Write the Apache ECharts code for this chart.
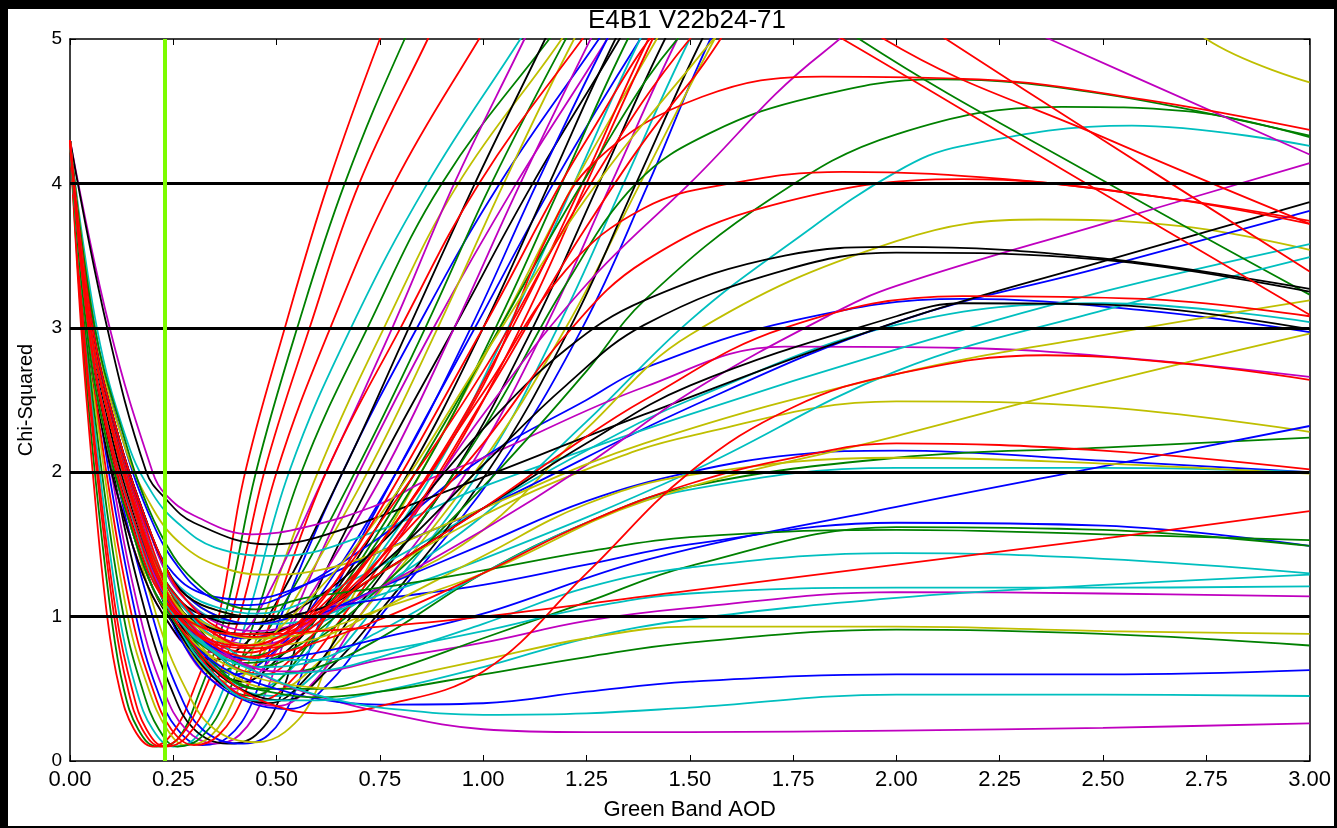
<!DOCTYPE html>
<html><head><meta charset="utf-8">
<script src="https://cdn.jsdelivr.net/npm/echarts/dist/echarts.min.js"></script>
<style>
html,body{margin:0;padding:0;background:#000;width:1337px;height:828px;overflow:hidden}
#chart{position:absolute;left:8px;top:9px;width:1326px;height:817px;background:#fff}
</style>
</head><body><div id="chart"></div>
<script>
const chartTitle = 'E4B1 V22b24-71';
const xName = 'Green Band AOD';
const yName = 'Chi-Squared';
const refLevels = [1, 2, 3, 4];
const fitAOD = 0.231;

const redCurves = [
 [[0,4.3],[0.027,3],[0.055,2],[0.09,1],[0.12,0.5],[0.155,0.22],[0.2,0.1],[0.25,0.2],[0.3,0.5],[0.36,1],[0.42,1.95],[0.52,3],[0.625,4],[0.75,5],[0.85,5.7]],
 [[0,4.3],[0.031,3],[0.065,2],[0.107,1],[0.14,0.5],[0.175,0.22],[0.22,0.1],[0.27,0.18],[0.32,0.45],[0.39,1],[0.47,2],[0.58,3],[0.7,4],[0.866,5],[0.95,5.5]],
 [[0,4.3],[0.033,3],[0.068,2],[0.113,1],[0.15,0.5],[0.185,0.22],[0.23,0.1],[0.28,0.16],[0.34,0.45],[0.41,1],[0.5,2],[0.63,3],[0.785,4],[0.99,5],[1.1,5.5]],
 [[0,4.3],[0.042,3],[0.088,2],[0.15,1],[0.2,0.5],[0.245,0.22],[0.3,0.11],[0.36,0.18],[0.42,0.45],[0.49,1],[0.62,2],[0.8,3],[0.99,4],[1.24,5],[1.35,5.4]],
 [[0,4.3],[0.05,3],[0.11,2.2],[0.17,1.6],[0.22,1.2],[0.27,0.95],[0.35,0.6],[0.46,0.42],[0.55,0.6],[0.66,1],[0.9,2],[1.09,3],[1.25,4],[1.41,5],[1.5,5.5]],
 [[0,4.3],[0.055,3],[0.12,2.2],[0.18,1.65],[0.23,1.25],[0.3,0.9],[0.38,0.68],[0.47,0.6],[0.54,0.72],[0.62,1],[0.87,2],[1.07,3],[1.24,4],[1.4,5],[1.5,5.5]],
 [[0,4.3],[0.05,3],[0.11,2.2],[0.17,1.65],[0.22,1.25],[0.27,1.02],[0.35,0.82],[0.43,0.75],[0.52,0.85],[0.6,1.05],[0.75,1.5],[1,2.6],[1.15,3.6],[1.27,4.15],[1.53,4.6],[1.82,4.74],[2.2,4.72],[2.6,4.58],[3,4.37]],
 [[0,4.3],[0.045,3],[0.1,2.2],[0.16,1.62],[0.21,1.22],[0.26,1],[0.33,0.8],[0.42,0.7],[0.5,0.78],[0.6,1],[0.75,1.5],[1,2.55],[1.2,3.4],[1.39,3.83],[1.6,4],[1.87,4.08],[2.3,4.02],[2.7,3.88],[3,3.74]],
 [[0,4.3],[0.05,3],[0.11,2.25],[0.17,1.68],[0.22,1.28],[0.27,1.08],[0.34,0.9],[0.43,0.8],[0.52,0.88],[0.62,1.05],[0.8,1.55],[1,2.2],[1.2,2.95],[1.39,3.46],[1.7,3.85],[2.16,4.03],[2.6,3.92],[3,3.72]],
 [[0,4.3],[0.055,3],[0.12,2.22],[0.18,1.7],[0.23,1.35],[0.28,1.12],[0.36,0.92],[0.45,0.86],[0.55,0.95],[0.75,1.3],[1,1.75],[1.2,2.15],[1.39,2.5],[1.73,3],[2.16,3.22],[2.6,3.2],[3,3.08]],
 [[0,4.3],[0.045,3],[0.1,2.2],[0.16,1.6],[0.22,1.15],[0.3,0.8],[0.4,0.52],[0.5,0.38],[0.6,0.33],[0.75,0.38],[1,0.62],[1.25,1.3],[1.5,2],[1.75,2.45],[2,2.68],[2.36,2.81],[2.7,2.75],[3,2.64]],
 [[0,4.3],[0.05,3],[0.11,2.2],[0.17,1.65],[0.22,1.25],[0.28,0.98],[0.36,0.78],[0.45,0.72],[0.55,0.78],[0.75,0.98],[1,1.3],[1.25,1.65],[1.5,1.92],[1.75,2.1],[2,2.2],[2.5,2.15],[3,2.02]],
 [[0,4.3],[0.045,3],[0.1,2.15],[0.16,1.55],[0.22,1.15],[0.3,0.95],[0.4,0.88],[0.5,0.88],[0.6,0.9],[0.75,0.93],[1,1],[1.5,1.18],[2,1.36],[2.5,1.54],[3,1.73]],
 [[0,4.3],[0.05,3],[0.11,2.2],[0.17,1.62],[0.22,1.22],[0.28,0.95],[0.36,0.8],[0.45,0.78],[0.55,0.92],[0.7,1.5],[1,3],[1.25,4.3],[1.5,5.3],[1.75,5.6],[1.97,5],[2.5,4.32],[3,3.72]],
 [[0,4.3],[0.045,3],[0.1,2.2],[0.16,1.62],[0.21,1.22],[0.26,1],[0.33,0.85],[0.42,0.8],[0.5,0.85],[0.6,1.1],[0.75,1.65],[1,2.7],[1.25,3.95],[1.5,5],[1.65,5.35],[1.87,5],[2.4,4.1],[3,3.09]],
 [[0,4.3],[0.05,3],[0.11,2.22],[0.17,1.66],[0.22,1.3],[0.27,1.1],[0.35,0.88],[0.45,0.78],[0.55,0.85],[0.75,1.4],[1,2.5],[1.25,3.7],[1.5,4.7],[1.8,5.6],[2.12,5],[2.5,4.3],[3,3.39]]
];

const greenCurves = [
 [[0,4.3],[0.029,3],[0.06,2],[0.1,1],[0.13,0.5],[0.165,0.22],[0.21,0.1],[0.26,0.15],[0.31,0.45],[0.375,1],[0.45,2],[0.55,3],[0.665,4],[0.81,5],[0.9,5.5]],
 [[0,4.3],[0.037,3],[0.077,2],[0.13,1],[0.175,0.5],[0.215,0.22],[0.26,0.1],[0.32,0.17],[0.38,0.45],[0.45,1],[0.56,2],[0.72,3],[0.9,4],[1.16,5],[1.3,5.5]],
 [[0,4.3],[0.04,3],[0.09,2.2],[0.15,1.6],[0.2,1.2],[0.25,0.95],[0.3,0.72],[0.36,0.62],[0.43,0.75],[0.5,1],[0.69,2],[0.86,3],[1.02,4],[1.2,5],[1.3,5.5]],
 [[0,4.3],[0.05,3],[0.11,2.2],[0.17,1.6],[0.22,1.18],[0.28,0.85],[0.36,0.55],[0.44,0.45],[0.52,0.6],[0.62,1],[0.85,2],[1.03,3],[1.19,4],[1.35,5],[1.45,5.5]],
 [[0,4.3],[0.045,3],[0.1,2.2],[0.16,1.62],[0.21,1.22],[0.26,0.98],[0.33,0.78],[0.42,0.68],[0.5,0.72],[0.6,0.9],[0.75,1.3],[1,2.3],[1.2,3.3],[1.37,4],[1.55,4.35],[1.8,4.6],[2.1,4.72],[2.5,4.62],[3,4.33]],
 [[0,4.3],[0.05,3],[0.11,2.22],[0.17,1.66],[0.22,1.3],[0.27,1.1],[0.35,0.8],[0.45,0.65],[0.55,0.75],[0.75,1.2],[1,1.9],[1.25,2.7],[1.39,3.19],[1.7,3.9],[2,4.34],[2.4,4.53],[2.7,4.5],[3,4.32]],
 [[0,4.3],[0.045,3],[0.1,2.2],[0.16,1.62],[0.21,1.25],[0.26,1.04],[0.33,0.82],[0.4,0.72],[0.48,0.75],[0.6,1],[0.75,1.6],[1,2.8],[1.25,4.05],[1.5,5.1],[1.7,5.5],[1.91,5],[2.5,4.02],[3,3.23]],
 [[0,4.3],[0.05,3],[0.11,2.22],[0.17,1.66],[0.22,1.3],[0.27,1.05],[0.35,0.75],[0.45,0.6],[0.6,0.65],[0.75,0.85],[1,1.3],[1.25,1.65],[1.5,1.9],[2,2.1],[2.5,2.17],[3,2.24]],
 [[0,4.3],[0.045,3],[0.1,2.2],[0.16,1.62],[0.21,1.25],[0.26,1.02],[0.34,0.7],[0.45,0.5],[0.6,0.5],[0.75,0.6],[1,0.85],[1.25,1.1],[1.5,1.35],[2,1.62],[2.5,1.6],[3,1.49]],
 [[0,4.3],[0.06,3],[0.13,2.25],[0.19,1.75],[0.25,1.42],[0.3,1.25],[0.37,1.1],[0.45,1.05],[0.57,1.13],[0.75,1.2],[1,1.32],[1.25,1.45],[1.5,1.55],[2,1.6],[2.5,1.57],[3,1.53]],
 [[0,4.3],[0.04,3],[0.09,2.2],[0.15,1.6],[0.2,1.2],[0.25,0.98],[0.32,0.72],[0.4,0.55],[0.5,0.47],[0.6,0.44],[0.75,0.48],[1,0.6],[1.25,0.72],[1.5,0.82],[2,0.91],[2.5,0.88],[3,0.8]]
];

const blueCurves = [
 [[0,4.3],[0.045,3],[0.094,2],[0.16,1],[0.21,0.5],[0.26,0.22],[0.32,0.11],[0.38,0.16],[0.44,0.4],[0.51,1],[0.66,2],[0.84,3],[1.04,4],[1.28,5],[1.4,5.5]],
 [[0,4.3],[0.053,3],[0.11,2],[0.2,1],[0.26,0.5],[0.32,0.22],[0.41,0.12],[0.48,0.18],[0.54,0.45],[0.61,1],[0.79,2],[0.98,3],[1.17,4],[1.38,5],[1.5,5.5]],
 [[0,4.3],[0.045,3],[0.1,2.2],[0.16,1.62],[0.21,1.22],[0.26,0.98],[0.33,0.72],[0.4,0.6],[0.48,0.72],[0.57,1],[0.79,2],[0.97,3],[1.13,4],[1.3,5],[1.4,5.5]],
 [[0,4.3],[0.05,3],[0.11,2.2],[0.17,1.6],[0.22,1.15],[0.3,0.7],[0.4,0.45],[0.53,0.36],[0.63,0.55],[0.75,1],[1.03,2],[1.24,3],[1.4,4],[1.55,5],[1.65,5.5]],
 [[0,4.3],[0.06,3],[0.13,2.2],[0.2,1.65],[0.26,1.35],[0.33,1.15],[0.42,1.08],[0.5,1.12],[0.75,1.55],[1,2.1],[1.25,2.5],[1.39,2.72],[1.75,3.05],[2.16,3.2],[2.6,3.12],[3,2.97]],
 [[0,4.3],[0.055,3],[0.12,2.2],[0.19,1.6],[0.25,1.3],[0.33,1.15],[0.43,1.12],[0.55,1.2],[0.75,1.45],[1,1.75],[1.5,2.45],[2,3.04],[2.5,3.42],[3,3.81]],
 [[0,4.3],[0.05,3],[0.11,2.22],[0.17,1.66],[0.22,1.3],[0.27,1.1],[0.34,0.92],[0.42,0.85],[0.55,0.95],[0.75,1.2],[1,1.5],[1.25,1.8],[1.5,2],[1.75,2.12],[2,2.15],[2.5,2.08],[3,2]],
 [[0,4.3],[0.055,3],[0.12,2.22],[0.18,1.7],[0.23,1.35],[0.28,1.15],[0.36,1],[0.45,0.95],[0.6,1.05],[0.75,1.12],[1,1.22],[1.25,1.36],[1.5,1.5],[2,1.65],[2.5,1.63],[3,1.49]],
 [[0,4.3],[0.045,3],[0.1,2.2],[0.16,1.62],[0.21,1.25],[0.26,1.02],[0.34,0.8],[0.45,0.7],[0.6,0.75],[0.75,0.85],[1,1.02],[1.39,1.39],[2,1.76],[2.5,2.04],[3,2.32]],
 [[0,4.3],[0.04,3],[0.09,2.2],[0.15,1.6],[0.2,1.2],[0.25,0.98],[0.32,0.75],[0.4,0.6],[0.5,0.5],[0.6,0.43],[0.75,0.39],[1,0.4],[1.25,0.48],[1.5,0.55],[2,0.6],[2.5,0.6],[3,0.63]]
];

const cyanCurves = [
 [[0,4.3],[0.035,3],[0.072,2],[0.12,1],[0.16,0.5],[0.2,0.22],[0.25,0.1],[0.3,0.15],[0.36,0.42],[0.43,1],[0.53,2],[0.68,3],[0.865,4],[1.09,5],[1.2,5.5]],
 [[0,4.3],[0.05,3],[0.11,2.2],[0.17,1.65],[0.22,1.25],[0.27,1],[0.36,0.62],[0.45,0.5],[0.54,0.65],[0.64,1],[0.88,2],[1.06,3],[1.22,4],[1.38,5],[1.48,5.5]],
 [[0,4.3],[0.05,3],[0.115,2.2],[0.18,1.6],[0.23,1.2],[0.3,0.8],[0.4,0.52],[0.5,0.45],[0.6,0.62],[0.72,1],[0.99,2],[1.18,3],[1.34,4],[1.5,5],[1.6,5.5]],
 [[0,4.3],[0.05,3],[0.11,2.22],[0.17,1.66],[0.22,1.3],[0.27,1.1],[0.35,0.92],[0.45,0.85],[0.6,0.95],[0.75,1.2],[1,1.7],[1.25,2.35],[1.5,3.05],[1.75,3.6],[2,4.08],[2.16,4.26],[2.57,4.4],[3,4.26]],
 [[0,4.3],[0.055,3],[0.12,2.22],[0.18,1.7],[0.23,1.35],[0.28,1.17],[0.36,1.06],[0.45,1.02],[0.55,1.08],[0.75,1.35],[1,1.75],[1.25,2.15],[1.5,2.5],[2,3.02],[2.5,3.17],[3,3.04]],
 [[0,4.3],[0.065,3],[0.14,2.2],[0.2,1.85],[0.26,1.65],[0.35,1.48],[0.5,1.42],[0.75,1.6],[1,1.9],[1.5,2.4],[2,2.85],[2.5,3.25],[3,3.58]],
 [[0,4.3],[0.055,3],[0.12,2.22],[0.18,1.7],[0.23,1.32],[0.28,1.12],[0.36,0.98],[0.5,0.95],[0.75,1.15],[1,1.4],[1.5,2],[2,2.7],[2.5,3.12],[3,3.49]],
 [[0,4.3],[0.045,3],[0.1,2.2],[0.16,1.62],[0.21,1.25],[0.26,1.02],[0.34,0.78],[0.45,0.65],[0.6,0.7],[0.75,0.9],[1,1.3],[1.25,1.65],[1.5,1.88],[2,2.03],[2.5,2.03],[3,2]],
 [[0,4.3],[0.05,3],[0.11,2.2],[0.17,1.62],[0.22,1.25],[0.27,1.02],[0.35,0.75],[0.45,0.6],[0.6,0.62],[0.75,0.72],[1,0.95],[1.25,1.2],[1.5,1.34],[2,1.44],[2.5,1.4],[3,1.3]],
 [[0,4.3],[0.04,3],[0.09,2.2],[0.15,1.6],[0.2,1.2],[0.25,0.98],[0.33,0.65],[0.45,0.42],[0.6,0.42],[0.75,0.48],[1,0.65],[1.25,0.85],[1.5,0.98],[2,1.13],[2.5,1.22],[3,1.29]],
 [[0,4.3],[0.05,3],[0.11,2.22],[0.17,1.66],[0.22,1.3],[0.27,1.08],[0.35,0.85],[0.45,0.7],[0.6,0.7],[0.75,0.76],[1,0.9],[1.25,1.06],[1.5,1.16],[2,1.2],[2.5,1.2],[3,1.21]],
 [[0,4.3],[0.045,3],[0.1,2.2],[0.16,1.6],[0.21,1.2],[0.27,0.95],[0.35,0.75],[0.45,0.62],[0.55,0.5],[0.65,0.42],[0.75,0.37],[1,0.32],[1.25,0.33],[1.5,0.37],[2,0.46],[2.5,0.46],[3,0.45]]
];

const magentaCurves = [
 [[0,4.3],[0.048,3],[0.1,2],[0.17,1],[0.225,0.5],[0.28,0.22],[0.35,0.12],[0.41,0.18],[0.47,0.45],[0.54,1],[0.7,2],[0.88,3],[1.08,4],[1.3,5],[1.4,5.5]],
 [[0,4.3],[0.04,3],[0.085,2.2],[0.14,1.6],[0.19,1.2],[0.24,0.95],[0.28,0.8],[0.33,0.75],[0.39,0.82],[0.45,1],[0.62,2],[0.78,3],[0.93,4],[1.1,5],[1.2,5.6]],
 [[0,4.3],[0.045,3],[0.095,2.2],[0.155,1.6],[0.2,1.2],[0.25,0.95],[0.32,0.62],[0.4,0.5],[0.47,0.65],[0.55,1],[0.76,2],[0.93,3],[1.09,4],[1.26,5],[1.35,5.5]],
 [[0,4.3],[0.055,3],[0.12,2.2],[0.18,1.62],[0.23,1.2],[0.3,0.78],[0.4,0.48],[0.5,0.38],[0.6,0.58],[0.7,1],[0.96,2],[1.15,3],[1.31,4],[1.47,5],[1.57,5.5]],
 [[0,4.3],[0.096,3],[0.2,2],[0.23,1.85],[0.3,1.7],[0.44,1.57],[0.57,1.62],[0.75,1.78],[0.86,1.94],[1,2.1],[1.39,2.59],[1.73,2.87],[2.16,2.86],[2.6,2.78],[3,2.66]],
 [[0,4.3],[0.05,3],[0.11,2.22],[0.17,1.66],[0.22,1.3],[0.27,1.08],[0.35,0.88],[0.45,0.8],[0.6,1],[0.75,1.4],[1,2.4],[1.25,3.3],[1.5,4],[1.82,4.9],[2.1,5.35],[2.37,5],[3,4.2]],
 [[0,4.3],[0.055,3],[0.12,2.22],[0.18,1.7],[0.23,1.32],[0.28,1.12],[0.36,0.95],[0.45,0.9],[0.6,1],[0.75,1.2],[1,1.6],[1.25,2.05],[1.5,2.55],[1.84,3.09],[2,3.29],[2.5,3.72],[3,4.14]],
 [[0,4.3],[0.045,3],[0.1,2.2],[0.16,1.6],[0.21,1.22],[0.26,1],[0.33,0.82],[0.4,0.7],[0.5,0.62],[0.6,0.62],[0.75,0.7],[1,0.82],[1.25,0.97],[1.5,1.06],[2,1.17],[2.5,1.16],[3,1.14]],
 [[0,4.3],[0.045,3],[0.1,2.2],[0.16,1.62],[0.21,1.25],[0.26,1.04],[0.33,0.85],[0.4,0.7],[0.5,0.55],[0.6,0.45],[0.75,0.34],[1,0.22],[1.25,0.2],[1.5,0.2],[2,0.21],[2.5,0.23],[3,0.26]]
];

const yellowCurves = [
 [[0,4.3],[0.04,3],[0.083,2],[0.14,1],[0.19,0.5],[0.235,0.22],[0.28,0.11],[0.34,0.17],[0.4,0.45],[0.47,1],[0.6,2],[0.76,3],[0.94,4],[1.19,5],[1.3,5.5]],
 [[0,4.3],[0.056,3],[0.12,2],[0.21,1],[0.28,0.5],[0.35,0.22],[0.45,0.13],[0.52,0.2],[0.59,0.45],[0.66,1],[0.85,2],[1.04,3],[1.22,4],[1.42,5],[1.52,5.5]],
 [[0,4.3],[0.042,3],[0.09,2.2],[0.15,1.6],[0.2,1.2],[0.25,0.95],[0.31,0.68],[0.38,0.55],[0.45,0.68],[0.52,1],[0.72,2],[0.89,3],[1.05,4],[1.22,5],[1.32,5.5]],
 [[0,4.3],[0.05,3],[0.11,2.2],[0.17,1.65],[0.22,1.25],[0.28,0.95],[0.38,0.62],[0.5,0.5],[0.6,0.68],[0.7,1],[0.98,2],[1.2,3],[1.38,4],[1.56,5],[1.66,5.5]],
 [[0,4.3],[0.055,3],[0.12,2.22],[0.18,1.7],[0.23,1.35],[0.28,1.15],[0.36,1],[0.45,0.95],[0.6,1.05],[0.75,1.2],[1,1.6],[1.25,2.3],[1.5,2.95],[2,3.6],[2.35,3.75],[2.7,3.7],[3,3.54]],
 [[0,4.3],[0.055,3],[0.12,2.22],[0.18,1.7],[0.23,1.35],[0.28,1.15],[0.36,1.04],[0.45,1],[0.6,1.05],[0.75,1.3],[1,1.7],[1.25,2.02],[1.5,2.25],[2,2.49],[2.5,2.45],[3,2.28]],
 [[0,4.3],[0.06,3],[0.13,2.2],[0.2,1.75],[0.27,1.5],[0.36,1.35],[0.47,1.29],[0.6,1.32],[0.75,1.45],[1,1.75],[1.39,2.2],[2,2.68],[2.5,2.95],[3,3.19]],
 [[0,4.3],[0.05,3],[0.11,2.22],[0.17,1.66],[0.22,1.3],[0.27,1.08],[0.35,0.92],[0.45,0.85],[0.6,0.9],[0.75,1.05],[1,1.3],[1.39,1.8],[2,2.25],[2.5,2.62],[3,2.96]],
 [[0,4.3],[0.05,3],[0.11,2.2],[0.17,1.64],[0.22,1.26],[0.27,1.04],[0.35,0.86],[0.45,0.8],[0.6,0.85],[0.75,1.05],[1,1.42],[1.25,1.78],[1.5,1.98],[2,2.1],[2.5,2.06],[3,1.99]],
 [[0,4.3],[0.04,3],[0.09,2.2],[0.15,1.6],[0.2,1.2],[0.25,0.98],[0.33,0.75],[0.45,0.58],[0.55,0.52],[0.65,0.5],[0.75,0.55],[1,0.7],[1.25,0.85],[1.5,0.93],[2,0.93],[2.5,0.9],[3,0.88]],
 [[0,4.3],[0.05,3],[0.11,2.2],[0.17,1.64],[0.22,1.25],[0.27,1.03],[0.35,0.85],[0.42,0.8],[0.5,0.9],[0.75,1.7],[1,2.8],[1.25,3.9],[1.5,4.8],[1.6,5.1],[2.2,6.2],[2.75,5],[3,4.7]]
];

const blackCurves = [
 [[0,4.3],[0.05,3],[0.105,2],[0.185,1],[0.245,0.5],[0.3,0.22],[0.38,0.12],[0.45,0.18],[0.51,0.45],[0.57,1],[0.74,2],[0.93,3],[1.12,4],[1.33,5],[1.43,5.5]],
 [[0,4.3],[0.04,3],[0.085,2.2],[0.14,1.6],[0.19,1.2],[0.24,0.95],[0.29,0.78],[0.35,0.7],[0.41,0.78],[0.48,1],[0.66,2],[0.82,3],[0.98,4],[1.15,5],[1.25,5.6]],
 [[0,4.3],[0.045,3],[0.095,2.2],[0.155,1.6],[0.2,1.2],[0.25,0.95],[0.32,0.7],[0.42,0.55],[0.5,0.7],[0.6,1],[0.82,2],[1,3],[1.16,4],[1.32,5],[1.42,5.5]],
 [[0,4.3],[0.05,3],[0.105,2.2],[0.165,1.6],[0.215,1.18],[0.28,0.82],[0.38,0.5],[0.48,0.4],[0.58,0.6],[0.68,1],[0.93,2],[1.12,3],[1.28,4],[1.44,5],[1.54,5.5]],
 [[0,4.3],[0.055,3],[0.115,2.2],[0.175,1.62],[0.225,1.2],[0.3,0.8],[0.4,0.52],[0.52,0.42],[0.62,0.62],[0.74,1],[1.01,2],[1.21,3],[1.37,4],[1.53,5],[1.63,5.5]],
 [[0,4.3],[0.09,3],[0.185,2],[0.23,1.82],[0.3,1.65],[0.48,1.5],[0.6,1.55],[0.885,1.84],[1.39,2.4],[2,3.04],[2.5,3.46],[3,3.87]],
 [[0,4.3],[0.05,3],[0.11,2.22],[0.17,1.66],[0.22,1.3],[0.27,1.1],[0.33,1],[0.4,0.95],[0.55,1.05],[0.75,1.5],[1,2.3],[1.2,2.85],[1.39,3.19],[1.73,3.5],[2,3.56],[2.5,3.48],[3,3.27]],
 [[0,4.3],[0.05,3],[0.11,2.2],[0.17,1.64],[0.22,1.26],[0.27,1.04],[0.34,0.92],[0.42,0.88],[0.55,0.95],[0.75,1.35],[1,2.05],[1.2,2.6],[1.39,3.02],[1.73,3.4],[2,3.52],[2.5,3.47],[3,3.25]],
 [[0,4.3],[0.055,3],[0.12,2.22],[0.18,1.7],[0.23,1.35],[0.28,1.15],[0.36,1.04],[0.45,1],[0.6,1.05],[0.75,1.3],[1,1.75],[1.25,2.2],[1.5,2.6],[2,3.08],[2.16,3.17],[2.5,3.16],[3,2.99]]
];

const FONT = '"Liberation Sans", Arial, Helvetica, sans-serif';
const groups = [
  {color: '#0000ff', curves: blueCurves},
  {color: '#008000', curves: greenCurves},
  {color: '#ff0000', curves: redCurves},
  {color: '#00bfbf', curves: cyanCurves},
  {color: '#bf00bf', curves: magentaCurves},
  {color: '#bfbf00', curves: yellowCurves},
  {color: '#000000', curves: blackCurves}
];

const series = [];
const maxLen = Math.max(...groups.map(g => g.curves.length));
for (let i = 0; i < maxLen; i++) {
  for (const g of groups) {
    if (i < g.curves.length) {
      series.push({
        type: 'line', data: g.curves[i], showSymbol: false, symbol: 'none',
        smooth: 0.4, clip: true, silent: true, animation: false, z: 2,
        lineStyle: {color: g.color, width: 1.8}
      });
    }
  }
}
series.push({
  type: 'line', data: [], silent: true, animation: false, z: 5,
  markLine: {symbol: 'none', silent: true, animation: false, label: {show: false},
    lineStyle: {color: '#000', width: 3, type: 'solid'},
    data: refLevels.map(v => ({yAxis: v}))}
});
series.push({
  type: 'line', data: [], silent: true, animation: false, z: 6,
  markLine: {symbol: 'none', silent: true, animation: false, label: {show: false},
    lineStyle: {color: '#7cfc00', width: 4, type: 'solid'},
    data: [{xAxis: fitAOD}]}
});

const axisLineStyle = {color: '#000', width: 1.5};
const tickStyle = {inside: true, length: 6, lineStyle: {color: '#000', width: 1}};

const chart = echarts.init(document.getElementById('chart'), null, {renderer: 'canvas'});
chart.setOption({
  animation: false,
  backgroundColor: '#fff',
  grid: {left: 54, right: 23, top: 30, bottom: 57, containLabel: false},
  graphic: [{type: 'text', x: 679, y: -1, silent: true,
    style: {text: chartTitle, font: '26px ' + FONT, fill: '#000', textAlign: 'center', textVerticalAlign: 'top'}}],
  xAxis: [
    {type: 'value', min: 0, max: 3, interval: 0.25, position: 'bottom',
     name: xName, nameLocation: 'middle', nameGap: 38,
     nameTextStyle: {fontFamily: FONT, fontSize: 22, color: '#000'},
     axisLine: {onZero: false, lineStyle: axisLineStyle}, axisTick: tickStyle,
     axisLabel: {fontFamily: FONT, fontSize: 22, color: '#000', margin: 8, formatter: v => v.toFixed(2)},
     splitLine: {show: false}},
    {type: 'value', min: 0, max: 3, interval: 0.25, position: 'top',
     axisLine: {onZero: false, lineStyle: axisLineStyle}, axisTick: tickStyle,
     axisLabel: {show: false}, splitLine: {show: false}}
  ],
  yAxis: [
    {type: 'value', min: 0, max: 5, interval: 1, position: 'left',
     name: yName, nameLocation: 'middle', nameGap: 34, nameRotate: 90,
     nameTextStyle: {fontFamily: FONT, fontSize: 20, color: '#000'},
     axisLine: {onZero: false, lineStyle: axisLineStyle}, axisTick: tickStyle,
     axisLabel: {fontFamily: FONT, fontSize: 19, color: '#000', margin: 8},
     splitLine: {show: false}},
    {type: 'value', min: 0, max: 5, interval: 1, position: 'right',
     axisLine: {onZero: false, lineStyle: axisLineStyle}, axisTick: tickStyle,
     axisLabel: {show: false}, splitLine: {show: false}}
  ],
  series: series
});
</script>
</body></html>
